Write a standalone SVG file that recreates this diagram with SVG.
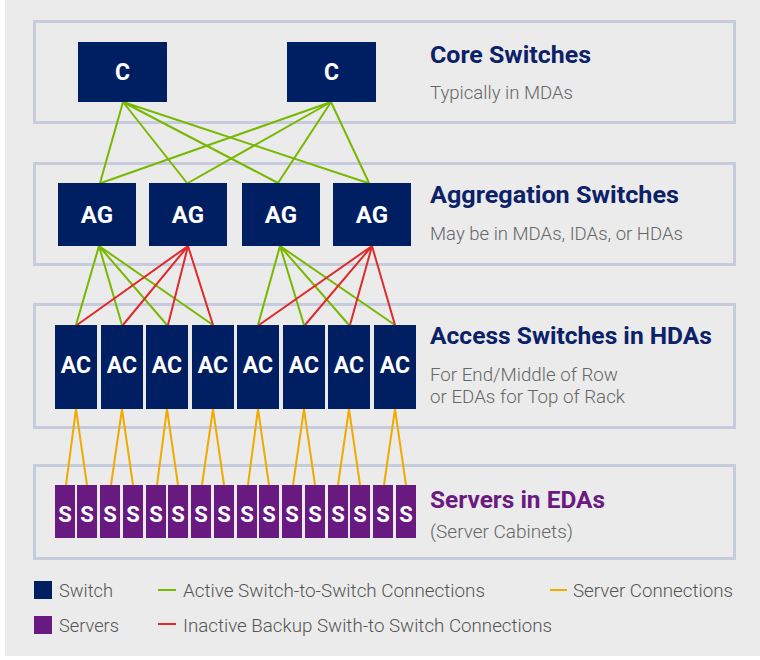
<svg xmlns="http://www.w3.org/2000/svg" width="760" height="660" viewBox="0 0 760 660">
  <style>
    .panel { fill: none; stroke: #c6ccdd; stroke-width: 3; }
    .sw { fill: #001e62; }
    .srv { fill: #681a80; }
    .lbl { font-family: Roboto, "Liberation Sans", sans-serif; font-weight: 700; fill: #ffffff; text-anchor: middle; }
    .title { font-family: Roboto, "Liberation Sans", sans-serif; font-weight: 700; font-size: 23px; fill: #0b2168; }
    .sub { font-family: Roboto, "Liberation Sans", sans-serif; font-weight: 300; font-size: 19px; fill: #666666; }
    .leg { font-family: Roboto, "Liberation Sans", sans-serif; font-weight: 300; font-size: 19px; fill: #555555; }
    .act { stroke: #78b800; stroke-width: 2; fill: none; }
    .bak { stroke: #e02a2a; stroke-width: 2; fill: none; }
    .srvc { stroke: #f0aa00; stroke-width: 2; fill: none; }
  </style>

  <rect x="0" y="0" width="760" height="660" fill="#ffffff"/>
  <rect x="5" y="0" width="755" height="656" fill="#ebebeb"/>

  <!-- tier panels -->
  <g id="panels">
    <rect class="panel" x="34.5" y="21.5" width="700" height="101"/>
    <rect class="panel" x="34.5" y="163.5" width="700" height="101"/>
    <rect class="panel" x="34.5" y="304.5" width="700" height="123"/>
    <rect class="panel" x="34.5" y="465.5" width="700" height="93"/>
  </g>

  <!-- connectors -->
  <g id="connectors">
    <!-- core to aggregation -->
    <path class="act" d="M123 102 L100 183 M123 102 L187 183 M123 102 L278 183 M123 102 L368 183"/>
    <path class="act" d="M331 102 L101 183 M331 102 L188 183 M331 102 L278 183 M331 102 L369 183"/>
    <!-- aggregation to access: active -->
    <path class="act" d="M99 246 L76 325 M99 246 L122 325 M99 246 L167 325 M99 246 L213 325"/>
    <path class="act" d="M280 246 L258 325 M280 246 L304 325 M280 246 L349 325 M280 246 L395 325"/>
    <!-- aggregation to access: backup -->
    <path class="bak" d="M188 246 L77 325 M188 246 L123 325 M188 246 L168 325 M188 246 L213 325"/>
    <path class="bak" d="M372 246 L259 325 M372 246 L305 325 M372 246 L350 325 M372 246 L395 325"/>
    <!-- access to servers -->
    <path class="srvc" d="M76 409 L66 485 M76 409 L87 485 M122 409 L111 485 M122 409 L133 485 M167 409 L157 485 M167 409 L178 485 M213 409 L202 485 M213 409 L224 485 M258 409 L248 485 M258 409 L269 485 M304 409 L293 485 M304 409 L315 485 M349 409 L338 485 M349 409 L360 485 M395 409 L384 485 M395 409 L406 485"/>
  </g>

  <!-- core switches -->
  <g id="core1"><rect class="sw" x="78" y="42" width="89" height="60"/><text class="lbl" x="122.5" y="80" font-size="23">C</text></g>
  <g id="core2"><rect class="sw" x="287" y="42" width="89" height="60"/><text class="lbl" x="331.5" y="80" font-size="23">C</text></g>

  <!-- aggregation switches -->
  <g id="ag1"><rect class="sw" x="58" y="183" width="78" height="63"/><text class="lbl" x="97" y="223" font-size="24">AG</text></g>
  <g id="ag2"><rect class="sw" x="149" y="183" width="78" height="63"/><text class="lbl" x="188" y="223" font-size="24">AG</text></g>
  <g id="ag3"><rect class="sw" x="242" y="183" width="78" height="63"/><text class="lbl" x="281" y="223" font-size="24">AG</text></g>
  <g id="ag4"><rect class="sw" x="333" y="183" width="78" height="63"/><text class="lbl" x="372" y="223" font-size="24">AG</text></g>

  <!-- access switches -->
  <g id="ac1"><rect class="sw" x="55" y="325" width="42" height="84"/><text class="lbl" x="76" y="373" font-size="23">AC</text></g>
  <g id="ac2"><rect class="sw" x="101" y="325" width="42" height="84"/><text class="lbl" x="122" y="373" font-size="23">AC</text></g>
  <g id="ac3"><rect class="sw" x="146" y="325" width="42" height="84"/><text class="lbl" x="167" y="373" font-size="23">AC</text></g>
  <g id="ac4"><rect class="sw" x="192" y="325" width="42" height="84"/><text class="lbl" x="213" y="373" font-size="23">AC</text></g>
  <g id="ac5"><rect class="sw" x="237" y="325" width="42" height="84"/><text class="lbl" x="258" y="373" font-size="23">AC</text></g>
  <g id="ac6"><rect class="sw" x="283" y="325" width="42" height="84"/><text class="lbl" x="304" y="373" font-size="23">AC</text></g>
  <g id="ac7"><rect class="sw" x="328" y="325" width="42" height="84"/><text class="lbl" x="349" y="373" font-size="23">AC</text></g>
  <g id="ac8"><rect class="sw" x="374" y="325" width="42" height="84"/><text class="lbl" x="395" y="373" font-size="23">AC</text></g>

  <!-- servers -->
  <g id="s1"><rect class="srv" x="55" y="485" width="20" height="53"/><text class="lbl" x="65" y="522" font-size="22">S</text></g>
  <g id="s2"><rect class="srv" x="77" y="485" width="20" height="53"/><text class="lbl" x="87" y="522" font-size="22">S</text></g>
  <g id="s3"><rect class="srv" x="100" y="485" width="20" height="53"/><text class="lbl" x="110" y="522" font-size="22">S</text></g>
  <g id="s4"><rect class="srv" x="123" y="485" width="20" height="53"/><text class="lbl" x="133" y="522" font-size="22">S</text></g>
  <g id="s5"><rect class="srv" x="146" y="485" width="20" height="53"/><text class="lbl" x="156" y="522" font-size="22">S</text></g>
  <g id="s6"><rect class="srv" x="168" y="485" width="20" height="53"/><text class="lbl" x="178" y="522" font-size="22">S</text></g>
  <g id="s7"><rect class="srv" x="191" y="485" width="20" height="53"/><text class="lbl" x="201" y="522" font-size="22">S</text></g>
  <g id="s8"><rect class="srv" x="214" y="485" width="20" height="53"/><text class="lbl" x="224" y="522" font-size="22">S</text></g>
  <g id="s9"><rect class="srv" x="237" y="485" width="20" height="53"/><text class="lbl" x="247" y="522" font-size="22">S</text></g>
  <g id="s10"><rect class="srv" x="259" y="485" width="20" height="53"/><text class="lbl" x="269" y="522" font-size="22">S</text></g>
  <g id="s11"><rect class="srv" x="282" y="485" width="20" height="53"/><text class="lbl" x="292" y="522" font-size="22">S</text></g>
  <g id="s12"><rect class="srv" x="305" y="485" width="20" height="53"/><text class="lbl" x="315" y="522" font-size="22">S</text></g>
  <g id="s13"><rect class="srv" x="328" y="485" width="20" height="53"/><text class="lbl" x="338" y="522" font-size="22">S</text></g>
  <g id="s14"><rect class="srv" x="350" y="485" width="20" height="53"/><text class="lbl" x="360" y="522" font-size="22">S</text></g>
  <g id="s15"><rect class="srv" x="373" y="485" width="20" height="53"/><text class="lbl" x="383" y="522" font-size="22">S</text></g>
  <g id="s16"><rect class="srv" x="396" y="485" width="20" height="53"/><text class="lbl" x="406" y="522" font-size="22">S</text></g>

  <!-- tier captions -->
  <g id="captions">
    <text class="title" x="430" y="63" textLength="161" lengthAdjust="spacingAndGlyphs">Core Switches</text>
    <text class="sub" x="430" y="99" textLength="143" lengthAdjust="spacingAndGlyphs">Typically in MDAs</text>
    <text class="title" x="430" y="203" textLength="249" lengthAdjust="spacingAndGlyphs">Aggregation Switches</text>
    <text class="sub" x="430" y="240" textLength="253" lengthAdjust="spacingAndGlyphs">May be in MDAs, IDAs, or HDAs</text>
    <text class="title" x="430" y="344" textLength="282" lengthAdjust="spacingAndGlyphs">Access Switches in HDAs</text>
    <text class="sub" x="430" y="381" textLength="188" lengthAdjust="spacingAndGlyphs">For End/Middle of Row</text>
    <text class="sub" x="430" y="403" textLength="195" lengthAdjust="spacingAndGlyphs">or EDAs for Top of Rack</text>
    <text class="title" x="430" y="508" style="fill:#6a1a80" textLength="175" lengthAdjust="spacingAndGlyphs">Servers in EDAs</text>
    <text class="sub" x="430" y="538" textLength="143" lengthAdjust="spacingAndGlyphs">(Server Cabinets)</text>
  </g>

  <!-- legend -->
  <g id="legend">
    <rect class="sw" x="34" y="581" width="18" height="18"/>
    <text class="leg" x="59" y="597" textLength="54" lengthAdjust="spacingAndGlyphs">Switch</text>
    <rect class="srv" x="34" y="616" width="18" height="18"/>
    <text class="leg" x="59" y="632" textLength="60" lengthAdjust="spacingAndGlyphs">Servers</text>
    <line class="act" x1="158" y1="590" x2="176" y2="590" stroke-width="3"/>
    <text class="leg" x="183" y="597" textLength="302" lengthAdjust="spacingAndGlyphs">Active Switch-to-Switch Connections</text>
    <line class="bak" x1="158" y1="624" x2="176" y2="624" stroke-width="3"/>
    <text class="leg" x="183" y="632" textLength="369" lengthAdjust="spacingAndGlyphs">Inactive Backup Swith-to Switch Connections</text>
    <line class="srvc" x1="550" y1="590" x2="567" y2="590" stroke-width="3"/>
    <text class="leg" x="573" y="597" textLength="160" lengthAdjust="spacingAndGlyphs">Server Connections</text>
  </g>
</svg>
